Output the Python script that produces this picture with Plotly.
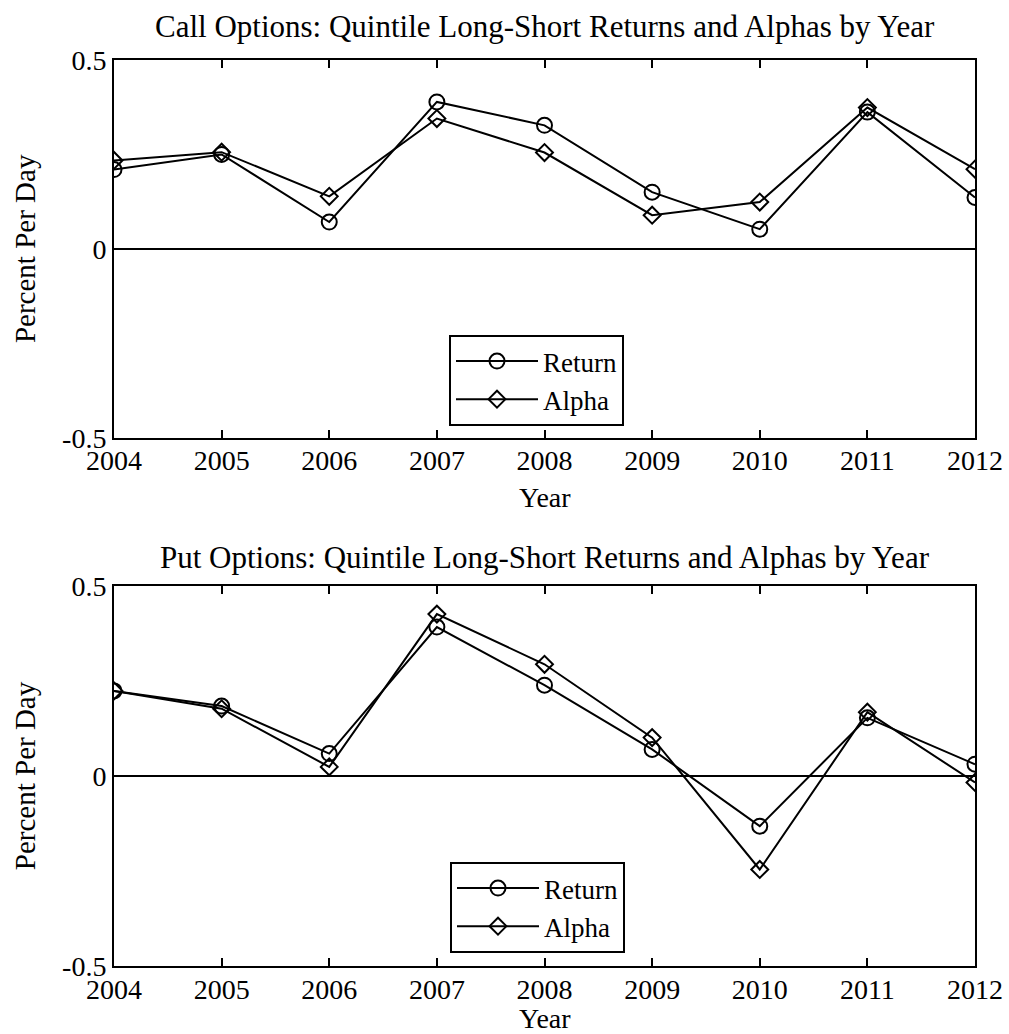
import plotly.graph_objects as go
from plotly.subplots import make_subplots

# Yearly quintile long-short results (percent per day)
years = [2004, 2005, 2006, 2007, 2008, 2009, 2010, 2011, 2012]

call_return = [0.210, 0.250, 0.071, 0.389, 0.327, 0.150, 0.052, 0.362, 0.136]
call_alpha = [0.234, 0.256, 0.139, 0.345, 0.255, 0.089, 0.124, 0.374, 0.211]

put_return = [0.224, 0.184, 0.059, 0.392, 0.239, 0.070, -0.132, 0.153, 0.031]
put_alpha = [0.224, 0.177, 0.024, 0.426, 0.294, 0.101, -0.246, 0.168, -0.017]

titles = [
    "Call Options: Quintile Long-Short Returns and Alphas by Year",
    "Put Options: Quintile Long-Short Returns and Alphas by Year",
]
x_title = "Year"
y_title = "Percent Per Day"
y_ticks = [-0.5, 0, 0.5]
y_tick_text = ["-0.5", "0", "0.5"]

FONT = "'Liberation Serif', 'Times New Roman', Times, serif"
W, H = 1009, 1034
ML, MR, MT, MB = 114, 34, 60, 68
plot_h = H - MT - MB

def fy(px):
    # pixel row -> paper fraction inside the plotting area
    return 1 - (px - MT) / plot_h

def fx(px):
    return (px - ML) / (W - ML - MR)

fig = make_subplots(rows=2, cols=1)

panels = [(call_return, call_alpha, "legend"), (put_return, put_alpha, "legend2")]
for i, (ret, alp, leg) in enumerate(panels, start=1):
    fig.add_trace(go.Scatter(
        x=years, y=ret, name="Return", mode="lines+markers",
        line=dict(color="black", width=2),
        marker=dict(symbol="circle-open", size=15, color="black", line=dict(width=2)),
        legend=leg), row=i, col=1)
    fig.add_trace(go.Scatter(
        x=years, y=alp, name="Alpha", mode="lines+markers",
        line=dict(color="black", width=2),
        marker=dict(symbol="diamond-open", size=13, color="black", line=dict(width=2)),
        legend=leg), row=i, col=1)

tick_font = dict(family=FONT, size=28, color="black")
domains = [(fy(437.7), 1.0), (0.0, fy(586))]
for i in (1, 2):
    fig.update_xaxes(
        row=i, col=1, domain=[0, 1], range=[2004, 2012], automargin=False,
        tickvals=years, ticktext=[str(y) for y in years],
        ticks="inside", ticklen=8, tickwidth=2, tickcolor="black",
        showline=True, linecolor="black", linewidth=2, mirror="ticks",
        showgrid=False, zeroline=False, ticklabelstandoff=-3,
        tickfont=tick_font,
    )
    fig.update_yaxes(
        row=i, col=1, domain=list(domains[i - 1]), range=[-0.5, 0.5], automargin=False,
        tickvals=y_ticks, ticktext=y_tick_text,
        ticks="inside", ticklen=8, tickwidth=2, tickcolor="black",
        showline=True, linecolor="black", linewidth=2, mirror="ticks",
        showgrid=False, zeroline=True, zerolinecolor="black", zerolinewidth=2,
        tickfont=tick_font,
        title=dict(text=y_title, font=dict(family=FONT, size=29, color="black"), standoff=18),
    )

annotations = []
for t, ypx in zip(titles, [26, 557]):
    annotations.append(dict(
        text=t, x=0.5, y=fy(ypx), xref="paper", yref="paper",
        xanchor="center", yanchor="middle", showarrow=False,
        font=dict(family=FONT, size=31, color="black")))
# x-axis titles under each panel
for ypx in (497, 1018):
    annotations.append(dict(
        text=x_title, x=0.5, y=fy(ypx), xref="paper", yref="paper",
        xanchor="center", yanchor="middle", showarrow=False,
        font=tick_font))

legend_style = dict(
    bgcolor="white", bordercolor="black", borderwidth=2,
    font=dict(family=FONT, size=27, color="black"),
    xanchor="left", yanchor="bottom", itemwidth=82,
    tracegroupgap=0,
)

fig.update_layout(
    width=W, height=H,
    margin=dict(l=ML, r=MR, t=MT, b=MB, autoexpand=False),
    paper_bgcolor="white", plot_bgcolor="white",
    font=dict(family=FONT, color="black"),
    annotations=annotations,
    showlegend=True,
    legend=dict(x=fx(449), y=fy(426), **legend_style),
    legend2=dict(x=fx(450), y=fy(953), **legend_style),
)

fig.write_html("out.html")
